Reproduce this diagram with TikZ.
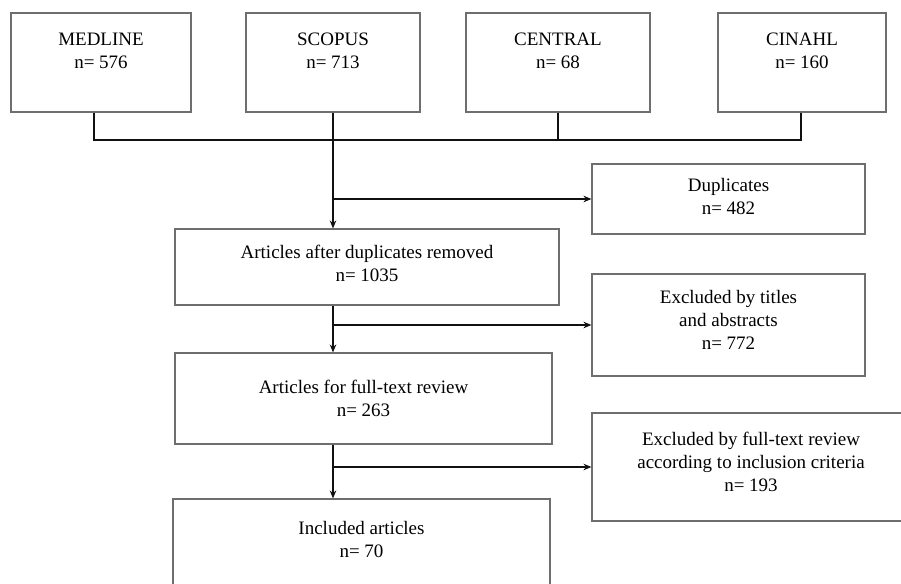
\documentclass[tikz,border=0pt]{standalone}
\usepackage{fontspec}
\setmainfont{Liberation Serif}
\usetikzlibrary{arrows.meta}
\definecolor{boxline}{HTML}{6E6E6E}
\definecolor{ink}{HTML}{111111}
\tikzset{
  flowbox/.style={draw=boxline, line width=1.1pt, fill=white, align=center, inner sep=0pt, font=\fontsize{19}{23}\selectfont},
  dbbox/.style={flowbox, minimum height=99pt, text depth=23pt},
  flow/.style={draw=ink, line width=2pt},
  flowarr/.style={flow, -{Stealth[length=8pt, width=6.5pt]}}
}
\begin{document}
\begin{tikzpicture}[x=1pt, y=-1pt]
  \useasboundingbox (0,0) rectangle (901,583);
  \clip (0,0) rectangle (901,583);
  \fill[white] (0,0) rectangle (901,583);

  \node[dbbox, minimum width=180pt] (medline) at (101,62.5) {MEDLINE\\n= 576};
  \node[dbbox, minimum width=174pt] (scopus) at (333,62.5) {SCOPUS\\n= 713};
  \node[dbbox, minimum width=184pt] (central) at (558,62.5) {CENTRAL\\n= 68};
  \node[dbbox, minimum width=168pt] (cinahl) at (802,62.5) {CINAHL\\n= 160};

  \node[flowbox, minimum width=273pt, minimum height=70pt, text depth=6pt] (dupl) at (728.5,199) {Duplicates\\n= 482};
  \node[flowbox, minimum width=384pt, minimum height=76pt, text depth=8pt] (after) at (367,267) {Articles after duplicates removed\\n= 1035};
  \node[flowbox, minimum width=273pt, minimum height=102pt, text depth=10pt] (extitle) at (728.5,325) {Excluded by titles\\and abstracts\\n= 772};
  \node[flowbox, minimum width=377pt, minimum height=91pt] (fulltext) at (363.5,398.5) {Articles for full-text review\\n= 263};
  \node[flowbox, minimum width=318pt, minimum height=108pt, text depth=10pt] (exfull) at (751,467) {Excluded by full-text review\\according to inclusion criteria\\n= 193};
  \node[flowbox, minimum width=377pt, minimum height=87pt, text depth=6pt] (incl) at (361.5,542.5) {Included articles\\n= 70};

  \coordinate (busL) at (94,140);
  \coordinate (trunk) at (333,140);
  \coordinate (busR) at (801,140);

  \draw[flow] (medline.south -| busL) -- (busL) -- (busR) -- (cinahl.south -| busR);
  \draw[flow] (central.south) -- (central.south |- busL);
  \draw[flowarr] (scopus.south) -- (trunk |- after.north);
  \draw[flowarr] (trunk |- dupl.west) -- (dupl.west);
  \draw[flowarr] (trunk |- after.south) -- (trunk |- fulltext.north);
  \draw[flowarr] (trunk |- extitle.west) -- (extitle.west);
  \draw[flowarr] (trunk |- fulltext.south) -- (trunk |- incl.north);
  \draw[flowarr] (trunk |- exfull.west) -- (exfull.west);
\end{tikzpicture}
\end{document}
